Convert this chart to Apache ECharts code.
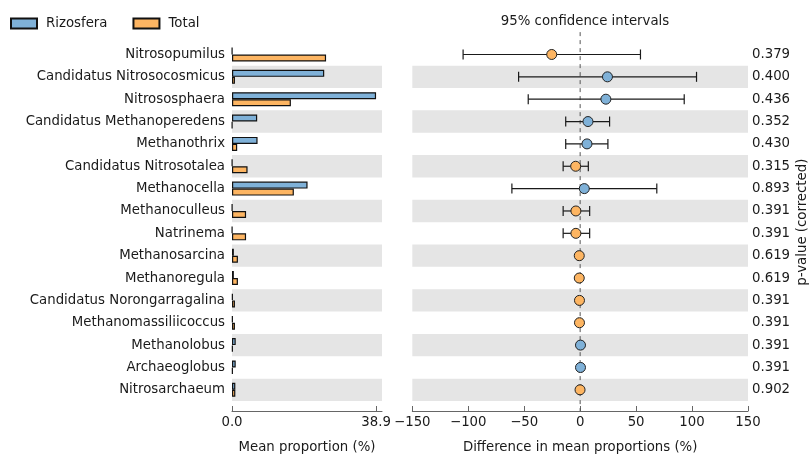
<!DOCTYPE html>
<html>
<head>
<meta charset="utf-8">
<style>
  html, body { margin: 0; padding: 0; background: #ffffff; }
  #chart { width: 810px; height: 459px; }
</style>
<script src="https://cdn.jsdelivr.net/npm/echarts@6/dist/echarts.min.js"></script>
</head>
<body>
<div id="chart"></div>
<script>
// Genera, top to bottom
const categories = [
  'Nitrosopumilus', 'Candidatus Nitrosocosmicus', 'Nitrososphaera',
  'Candidatus Methanoperedens', 'Methanothrix', 'Candidatus Nitrosotalea',
  'Methanocella', 'Methanoculleus', 'Natrinema', 'Methanosarcina',
  'Methanoregula', 'Candidatus Norongarragalina', 'Methanomassiliicoccus',
  'Methanolobus', 'Archaeoglobus', 'Nitrosarchaeum'
];

// Mean proportion (%) per group
const rizosfera = [0.05, 24.9, 38.9, 6.8, 6.9, 0.05, 20.4, 0.05, 0.05, 0.5, 0.5, 0.2, 0.2, 1.0, 1.0, 0.9];
const total     = [25.4, 0.8, 15.9, 0.05, 1.4, 4.2, 16.7, 3.8, 3.8, 1.6, 1.6, 0.8, 0.8, 0.2, 0.2, 0.9];

// Difference in mean proportions (%) with 95% confidence interval
const diff   = [-25.4, 24.4, 23.0, 7.0, 6.1, -4.0, 3.7, -3.8, -3.8, -0.8, -0.8, -0.6, -0.6, 0.3, 0.3, -0.1];
const ciLow  = [-104.6, -55.0, -46.4, -12.9, -12.9, -15.2, -61.0, -15.2, -15.2, -2.0, -2.0, -1.5, -1.5, -0.8, -0.8, -1.2];
const ciHigh = [53.9, 104.0, 93.0, 26.3, 24.8, 7.3, 68.5, 8.5, 8.5, 0.4, 0.4, 0.3, 0.3, 1.4, 1.4, 1.0];

// Corrected p-values
const pValues = ['0.379', '0.400', '0.436', '0.352', '0.430', '0.315', '0.893', '0.391',
                 '0.391', '0.619', '0.619', '0.391', '0.391', '0.391', '0.391', '0.902'];

// Axis ticks
const propTicks = [0, 38.9];
const diffTicks = [-150, 150, 50];

const BLUE = '#7fb1d8';
const ORANGE = '#fdb562';
const STRIPE = '#e5e5e5';
const FONT = 'DejaVu Sans';
const FS = 13.3;
const TXT = '#1a1a1a';
const AXIS = '#666666';

const chart = echarts.init(document.getElementById('chart'), null, { renderer: 'canvas' });

const minus = v => String(v).replace('-', '\u2212');

const gridTop = 43.3;
const gridH = 362.6;

const option = {
  animation: false,
  textStyle: { fontFamily: FONT },
  title: {
    text: '95% confidence intervals',
    left: 580, top: 10,
    textAlign: 'center',
    textStyle: { fontFamily: FONT, fontSize: FS, fontWeight: 'normal', color: TXT }
  },
  legend: {
    left: 5, top: 12,
    itemWidth: 26, itemHeight: 10, itemGap: 25,
    icon: 'rect',
    textStyle: { fontFamily: FONT, fontSize: FS, color: TXT, padding: [0, 0, 0, 4] },
    data: ['Rizosfera', 'Total']
  },
  grid: [
    { left: 232, top: gridTop, width: 150, height: gridH },
    { left: 412.3, top: gridTop, width: 336.7, height: gridH }
  ],
  xAxis: [
    {
      type: 'value', gridIndex: 0, min: 0, max: 40.5, offset: 10,
      axisLine: { show: true, lineStyle: { color: AXIS, width: 1 } },
      axisTick: { show: true, inside: true, length: 5, customValues: propTicks, lineStyle: { color: AXIS } },
      axisLabel: { customValues: propTicks, margin: 5, fontSize: FS, color: TXT, fontFamily: FONT,
                   formatter: v => v.toFixed(1) },
      splitLine: { show: false },
      name: 'Mean proportion (%)', nameLocation: 'middle', nameGap: 30,
      nameTextStyle: { fontFamily: FONT, fontSize: FS, color: TXT }
    },
    {
      type: 'value', gridIndex: 1, min: diffTicks[0], max: diffTicks[1], interval: diffTicks[2], offset: 10,
      axisLine: { show: true, lineStyle: { color: AXIS, width: 1 } },
      axisTick: { show: true, inside: true, length: 5, lineStyle: { color: AXIS } },
      axisLabel: { margin: 5, fontSize: FS, color: TXT, fontFamily: FONT, formatter: minus },
      splitLine: { show: false },
      name: 'Difference in mean proportions (%)', nameLocation: 'middle', nameGap: 30,
      nameTextStyle: { fontFamily: FONT, fontSize: FS, color: TXT }
    }
  ],
  yAxis: [
    {
      type: 'category', gridIndex: 0, inverse: true, data: categories,
      axisLine: { show: false }, axisTick: { show: false },
      axisLabel: { margin: 7, fontSize: FS, color: TXT, fontFamily: FONT },
      splitArea: { show: true, areaStyle: { color: ['rgba(255,255,255,0)', STRIPE] } }
    },
    {
      type: 'category', gridIndex: 1, inverse: true, data: categories,
      axisLine: { show: false }, axisTick: { show: false }, axisLabel: { show: false },
      splitArea: { show: true, areaStyle: { color: ['rgba(255,255,255,0)', STRIPE] } }
    },
    {
      type: 'category', gridIndex: 1, inverse: true, position: 'right', data: pValues,
      axisLine: { show: false }, axisTick: { show: false },
      axisLabel: { margin: 4, fontSize: FS, color: TXT, fontFamily: FONT },
      name: 'p-value (corrected)', nameLocation: 'middle', nameRotate: 90, nameGap: 48,
      nameTextStyle: { fontFamily: FONT, fontSize: FS, color: TXT }
    }
  ],
  series: [
    {
      name: 'Rizosfera', type: 'bar', xAxisIndex: 0, yAxisIndex: 0,
      data: rizosfera, barWidth: 7, barGap: '0%',
      itemStyle: { color: BLUE, borderColor: '#111', borderWidth: 1.2 }
    },
    {
      name: 'Total', type: 'bar', xAxisIndex: 0, yAxisIndex: 0,
      data: total, barWidth: 7, barGap: '0%',
      itemStyle: { color: ORANGE, borderColor: '#111', borderWidth: 1.2 }
    },
    {
      // dashed zero reference line
      type: 'custom', xAxisIndex: 1, yAxisIndex: 1, clip: false, silent: true, z: 1,
      data: [[0, 0]],
      renderItem: (params, api) => {
        const band = api.size([0, 1])[1];
        const top = api.coord([0, 0]);
        const bottom = api.coord([0, categories.length - 1]);
        return {
          type: 'line',
          shape: { x1: top[0], y1: top[1] - band * 1.0, x2: bottom[0], y2: bottom[1] + band * 0.95 },
          style: { stroke: '#555', lineWidth: 1, lineDash: [4, 4] }
        };
      }
    },
    {
      // confidence interval whiskers
      type: 'custom', xAxisIndex: 1, yAxisIndex: 1, z: 2,
      encode: { x: [0, 1], y: 2 },
      data: categories.map((c, i) => [ciLow[i], ciHigh[i], i]),
      renderItem: (params, api) => {
        const i = api.value(2);
        const lo = api.coord([api.value(0), i]);
        const hi = api.coord([api.value(1), i]);
        const h = 5;
        const st = { stroke: '#1a1a1a', lineWidth: 1.2 };
        return {
          type: 'group',
          children: [
            { type: 'line', shape: { x1: lo[0], y1: lo[1], x2: hi[0], y2: hi[1] }, style: st },
            { type: 'line', shape: { x1: lo[0], y1: lo[1] - h, x2: lo[0], y2: lo[1] + h }, style: st },
            { type: 'line', shape: { x1: hi[0], y1: hi[1] - h, x2: hi[0], y2: hi[1] + h }, style: st }
          ]
        };
      }
    },
    {
      // point estimates, coloured by the group with the larger mean
      type: 'scatter', xAxisIndex: 1, yAxisIndex: 1, z: 3,
      symbol: 'circle', symbolSize: 10,
      data: categories.map((c, i) => [diff[i], i]),
      itemStyle: {
        color: p => (p.value[0] > 0 ? BLUE : ORANGE),
        borderColor: '#222', borderWidth: 1, opacity: 1
      }
    }
  ]
};

chart.setOption(option);
</script>
</body>
</html>
